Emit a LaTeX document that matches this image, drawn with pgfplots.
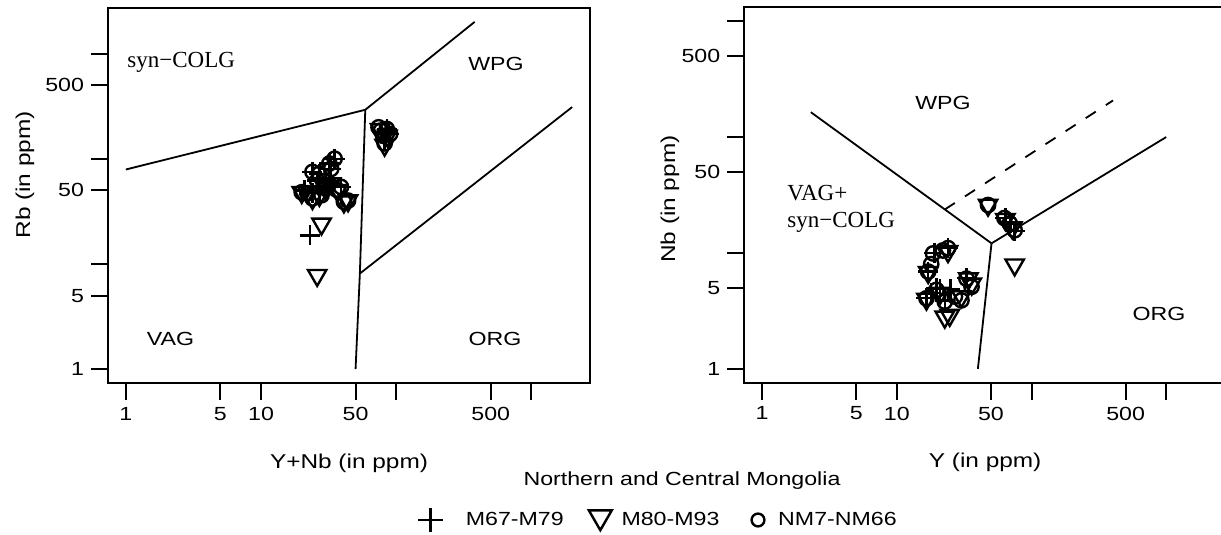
\documentclass[border=0pt]{standalone}
\usepackage{fontspec}
\setmainfont{Liberation Sans}[FakeStretch=1.22]
\newfontfamily\serifx{Liberation Serif}
\usepackage{pgfplots}
\pgfplotsset{compat=1.18}
\newcommand\sfs{\fontsize{9.5}{11}\selectfont}
\tikzset{
  bnd/.style={line width=0.9pt, black},
  plm/.style={mark=+, mark size=5pt, line width=1.2pt, black},
  trm/.style={mark=triangle, mark size=5.3pt, mark options={rotate=180}, line width=1.2pt, black},
  cim/.style={mark=o, mark size=3.6pt, line width=1.2pt, black},
}
\begin{document}
\begin{tikzpicture}
% ---------------- left: Rb vs Y+Nb ----------------
\begin{axis}[at={(54pt,-191.5pt)}, anchor=south west,
  scale only axis, width=241pt, height=187.5pt,
  xmode=log, ymode=log,
  xmin=0.738, xmax=2710, ymin=0.738, ymax=2710,
  xtick={1,5,10,50,100,500,1000}, xticklabels={1,5,10,50,,500,},
  ytick={1,5,10,50,100,500,1000}, yticklabels={1,5,,50,,500,},
  minor xtick={}, minor ytick={},
  tick align=outside, major tick length=8.5pt, tick pos=left,
  axis line style={line width=1pt},
  every tick/.style={line width=1pt, black},
  tick label style={font=\sfs}, label style={font=\sfs},
  xlabel={Y+Nb (in ppm)}, ylabel={Rb (in ppm)},
  every axis x label/.style={at={(axis description cs:0.5,-0.2133)}, anchor=center},
  every axis y label/.style={at={(axis description cs:-0.1722,0.555)}, rotate=90, anchor=center},
  clip=false,
  legend columns=3,
  legend cell align=left,
  legend style={draw=none, fill=none, inner sep=0pt, font=\sfs,
    at={(axis description cs:0.6245,-0.3653)}, anchor=west,
    nodes={inner sep=0pt},
    /tikz/every even column/.append style={column sep=0pt},
    /tikz/every odd column/.append style={column sep=0pt}},
]
\addplot[bnd, forget plot] coordinates {(1,79) (59,292)};
\addplot[bnd, forget plot] coordinates {(59,292) (380,2000)};
\addplot[bnd, forget plot] coordinates {(59,292) (53.8,8.1) (50,1)};
\addplot[bnd, forget plot] coordinates {(53.8,8.1) (2000,310)};
\addplot[only marks, plm, legend image code/.code={\draw[black, line width=1.2pt] plot[mark=+, mark size=6.2pt] coordinates {(0pt,0pt)}; \path (-10pt,0pt) (17pt,0pt);}] coordinates {
(23,18.7) (35,100) (32,90) (24,75) (27,72) (26,62) (29,55) (39,54) (24,47) (30,62) (33,80)
(85,190) (82,150) (88,172) (78,180) (21,50) (27,48)};
\addlegendentry{M67-M79}
\addplot[only marks, trm, legend image code/.code={\draw[black, line width=1.2pt, mark options={rotate=180}] plot[mark=triangle, mark size=6.6pt] coordinates {(0pt,1.5pt)}; \path (-17.7pt,0pt) (10pt,0pt);}] coordinates {
(26,7.8) (28,24) (20,48) (24,42) (27,45) (41,39) (44,40) (30,52) (37,50) (22,48)
(82,135) (76,190) (86,165) (33,58)};
\addlegendentry{M80-M93}
\addplot[only marks, cim, legend image code/.code={\draw[black, line width=1.2pt] plot[mark=o, mark size=3.2pt] coordinates {(0pt,0pt)}; \path (-18.7pt,0pt) (9.5pt,0pt);}] coordinates {
(35,100) (32,90) (24,75) (26,62) (20,48) (24,42) (39,54) (41,39) (29,54) (27,72) (22,47)
(30,62) (37,50) (44,40) (33,80) (28,45) (85,192) (74,199) (82,140) (90,172) (80,165) (77,185)};
\addlegendentry{NM7-NM66}
\end{axis}
% ---------------- right: Nb vs Y ----------------
\begin{axis}[at={(372.15pt,-191.35pt)}, anchor=south west,
  scale only axis, width=243pt, height=187.7pt,
  xmode=log, ymode=log,
  xmin=0.738, xmax=2992, ymin=0.7586, ymax=1318,
  xtick={1,5,10,50,100,500,1000}, xticklabels={1,5,10,50,,500,},
  ytick={1,5,10,50,100,500,1000}, yticklabels={1,5,,50,,500,},
  minor xtick={}, minor ytick={},
  tick align=outside, major tick length=8.5pt, tick pos=left,
  axis line style={line width=1pt},
  every tick/.style={line width=1pt, black},
  tick label style={font=\sfs}, label style={font=\sfs},
  xlabel={Y (in ppm)}, ylabel={Nb (in ppm)},
  every axis x label/.style={at={(axis description cs:0.4955,-0.2131)}, anchor=center},
  every axis y label/.style={at={(axis description cs:-0.1529,0.489)}, rotate=90, anchor=center},
  clip=false,
]
\addplot[bnd] coordinates {(2.3,164) (50.5,12.1)};
\addplot[bnd] coordinates {(50.5,12.1) (40,1)};
\addplot[bnd] coordinates {(50.5,12.1) (1000,100)};
\addplot[bnd, dash pattern=on 6pt off 6pt] coordinates {(22.7,23.7) (403,207)};
\addplot[only marks, plm] coordinates {
(24,11) (19,10) (17.1,6.9) (33,6.1) (19.7,5) (21,4.9) (16.6,4.1) (22.7,3.9)
(64,20) (70,18) (75,15.5) (18,4.5) (25,4.9)};
\addplot[only marks, trm] coordinates {
(22.7,2.8) (24.7,2.9) (47.6,25.9) (75,7.9) (16.6,4) (30.2,4.2) (36,5.4) (21,4.5)
(17.1,6.8) (24,10.3) (64,19.5) (72,16.5) (34,6)};
\addplot[only marks, cim] coordinates {
(24,11) (22,10.5) (18.6,9.9) (17.1,6.9) (18,8) (32.9,6.0) (19.7,4.8) (16.6,4.06) (22.7,3.8)
(30.2,3.9) (35.9,5.1) (27,4.2) (47.6,25.9) (63,20) (69,18) (75,15.7)};
\end{axis}
% ---------------- region labels and legend title ----------------
\begin{scope}[x=0.5pt,y=-0.5pt]
\node[anchor=west, inner sep=0pt, font=\serifx\fontsize{11.5}{13}\selectfont] at (127,62) {syn−COLG};
\node[font=\sfs] at (496,64) {WPG};
\node[font=\sfs] at (170.5,339) {VAG};
\node[font=\sfs] at (495,339) {ORG};
\node[font=\sfs] at (943,103) {WPG};
\node[anchor=west, inner sep=0pt, font=\serifx\fontsize{11.5}{13}\selectfont] at (787,193) {VAG+};
\node[anchor=west, inner sep=0pt, font=\serifx\fontsize{11.5}{13}\selectfont] at (787,222) {syn−COLG};
\node[font=\sfs] at (1159,314) {ORG};
\node[font=\sfs] at (682,481) {Northern and Central Mongolia};
\end{scope}
\pgfresetboundingbox
\useasboundingbox (0,0) rectangle (610.5pt,-267.5pt);
\end{tikzpicture}
\end{document}
